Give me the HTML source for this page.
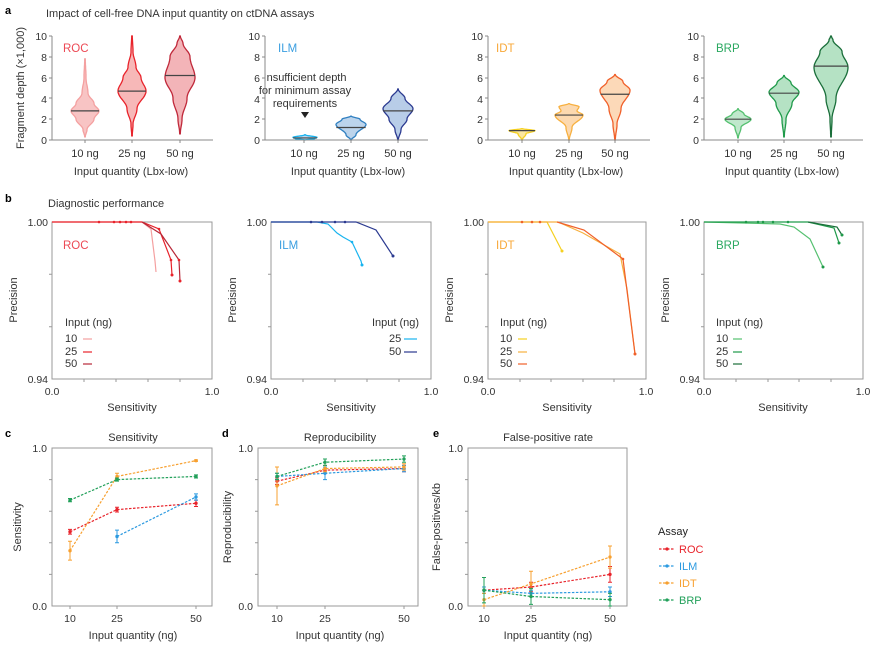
<!DOCTYPE html>
<html><head><meta charset="utf-8"><style>
html,body{margin:0;padding:0;background:#fff;}
svg{display:block;font-family:"Liberation Sans",Arial,sans-serif;}
</style></head><body>
<svg id="s" width="891" height="649" viewBox="0 0 891 649" xmlns="http://www.w3.org/2000/svg">
<g font-size="11" fill="#333">
<text x="5" y="14" font-weight="bold" font-size="11" fill="#000">a</text>
<text x="46" y="17">Impact of cell-free DNA input quantity on ctDNA assays</text>
<text x="5" y="202" font-weight="bold" font-size="11" fill="#000">b</text>
<text x="48" y="207">Diagnostic performance</text>
<text x="5" y="437" font-weight="bold" font-size="11" fill="#000">c</text>
<text x="222" y="437" font-weight="bold" font-size="11" fill="#000">d</text>
<text x="433" y="437" font-weight="bold" font-size="11" fill="#000">e</text>
</g>
<g id="va"></g>
<g font-size="11" fill="#333">
<text transform="translate(24,88) rotate(-90)" text-anchor="middle">Fragment depth (×1,000)</text>
<g text-anchor="end" font-size="10.5">
<text x="47" y="40">10</text><text x="47" y="61">8</text><text x="47" y="82">6</text><text x="47" y="103">4</text><text x="47" y="123">2</text><text x="47" y="144">0</text>
<text x="260" y="40">10</text><text x="260" y="61">8</text><text x="260" y="82">6</text><text x="260" y="103">4</text><text x="260" y="123">2</text><text x="260" y="144">0</text>
<text x="483" y="40">10</text><text x="483" y="61">8</text><text x="483" y="82">6</text><text x="483" y="103">4</text><text x="483" y="123">2</text><text x="483" y="144">0</text>
<text x="699" y="40">10</text><text x="699" y="61">8</text><text x="699" y="82">6</text><text x="699" y="103">4</text><text x="699" y="123">2</text><text x="699" y="144">0</text>
</g>
<g text-anchor="middle">
<text x="85" y="157">10 ng</text><text x="132" y="157">25 ng</text><text x="180" y="157">50 ng</text>
<text x="131" y="175">Input quantity (Lbx-low)</text>
<text x="304" y="157">10 ng</text><text x="351" y="157">25 ng</text><text x="398" y="157">50 ng</text>
<text x="348" y="175">Input quantity (Lbx-low)</text>
<text x="522" y="157">10 ng</text><text x="569" y="157">25 ng</text><text x="615" y="157">50 ng</text>
<text x="566" y="175">Input quantity (Lbx-low)</text>
<text x="738" y="157">10 ng</text><text x="784" y="157">25 ng</text><text x="831" y="157">50 ng</text>
<text x="782" y="175">Input quantity (Lbx-low)</text>
<text x="305" y="81">Insufficient depth</text>
<text x="305" y="94">for minimum assay</text>
<text x="305" y="107">requirements</text>
</g>
<text x="63" y="52" fill="#ec4a55" font-size="11.5">ROC</text>
<text x="278" y="52" fill="#3a9ee0" font-size="11.5">ILM</text>
<text x="496" y="52" fill="#f8a838" font-size="11.5">IDT</text>
<text x="716" y="52" fill="#2aa860" font-size="11.5">BRP</text>
</g>
<path d="M301,112 L309,112 L305,118 Z" fill="#222"/>
<g stroke="#888" stroke-width="1" fill="none">
<path d="M52,36 V140 H213"/><path d="M265,36 V140 H428"/><path d="M488,36 V140 H650"/><path d="M704,36 V140 H863"/>
<path d="M49,36H52M49,57H52M49,78H52M49,98H52M49,119H52M49,140H52"/>
<path d="M262,36H265M262,57H265M262,78H265M262,98H265M262,119H265M262,140H265"/>
<path d="M485,36H488M485,57H488M485,78H488M485,98H488M485,119H488M485,140H488"/>
<path d="M701,36H704M701,57H704M701,78H704M701,98H704M701,119H704M701,140H704"/>
<path d="M85,140v3M132,140v3M180,140v3M304,140v3M351,140v3M398,140v3M522,140v3M569,140v3M615,140v3M738,140v3M784,140v3M831,140v3"/>
</g>

<g stroke="#999" stroke-width="1" fill="none">
<rect x="52" y="222" width="160" height="157"/><rect x="271" y="222" width="160" height="157"/>
<rect x="488" y="222" width="158" height="157"/><rect x="704" y="222" width="159" height="157"/>
<path d="M52,274.3h-3M52,326.7h-3M84,379v3M116,379v3M148,379v3M180,379v3"/>
<path d="M271,274.3h-3M271,326.7h-3M303,379v3M335,379v3M367,379v3M399,379v3"/>
<path d="M488,274.3h-3M488,326.7h-3M520,379v3M551,379v3M583,379v3M614,379v3"/>
<path d="M704,274.3h-3M704,326.7h-3M736,379v3M768,379v3M799,379v3M831,379v3"/>
</g>
<g font-size="11" fill="#333">
<g text-anchor="end" font-size="10.5">
<text x="48" y="226">1.00</text><text x="48" y="383">0.94</text>
<text x="267" y="226">1.00</text><text x="267" y="383">0.94</text>
<text x="484" y="226">1.00</text><text x="484" y="383">0.94</text>
<text x="700" y="226">1.00</text><text x="700" y="383">0.94</text>
</g>
<g text-anchor="middle">
<text x="52" y="395" font-size="10.5">0.0</text><text x="212" y="395" font-size="10.5">1.0</text><text x="132" y="411">Sensitivity</text>
<text x="271" y="395" font-size="10.5">0.0</text><text x="431" y="395" font-size="10.5">1.0</text><text x="351" y="411">Sensitivity</text>
<text x="488" y="395" font-size="10.5">0.0</text><text x="646" y="395" font-size="10.5">1.0</text><text x="567" y="411">Sensitivity</text>
<text x="704" y="395" font-size="10.5">0.0</text><text x="863" y="395" font-size="10.5">1.0</text><text x="783" y="411">Sensitivity</text>
<text transform="translate(17,300) rotate(-90)">Precision</text>
<text transform="translate(236,300) rotate(-90)">Precision</text>
<text transform="translate(453,300) rotate(-90)">Precision</text>
<text transform="translate(669,300) rotate(-90)">Precision</text>
</g>
<text x="63" y="249" fill="#ec4a55" font-size="11.5">ROC</text>
<text x="279" y="249" fill="#3a9ee0" font-size="11.5">ILM</text>
<text x="496" y="249" fill="#f8a838" font-size="11.5">IDT</text>
<text x="716" y="249" fill="#2aa860" font-size="11.5">BRP</text>
<text x="65" y="326">Input (ng)</text><text x="65" y="342">10</text><text x="65" y="355">25</text><text x="65" y="367">50</text>
<text x="372" y="326">Input (ng)</text><text x="389" y="342">25</text><text x="389" y="355">50</text>
<text x="500" y="326">Input (ng)</text><text x="500" y="342">10</text><text x="500" y="355">25</text><text x="500" y="367">50</text>
<text x="716" y="326">Input (ng)</text><text x="716" y="342">10</text><text x="716" y="355">25</text><text x="716" y="367">50</text>
</g>
<g stroke-width="1.2">
<path d="M83,339h9" stroke="#f4a0a0"/><path d="M83,352h9" stroke="#e8232b"/><path d="M83,364h9" stroke="#b82838"/>
<path d="M404,339h13" stroke="#19b4ef"/><path d="M404,352h13" stroke="#2b3a90"/>
<path d="M518,339h9" stroke="#f5d020"/><path d="M518,352h9" stroke="#f7b040"/><path d="M518,364h9" stroke="#f0602a"/>
<path d="M733,339h9" stroke="#55c070"/><path d="M733,352h9" stroke="#1f9a4a"/><path d="M733,364h9" stroke="#1a6e3a"/>
</g>
<g fill="none" stroke-width="1.2">
<polyline stroke="#f4a0a0" points="52,222 142,222 151,229 155,261 156,272"/>
<polyline stroke="#e8232b" points="52,222 142,222 159,229 171,260 172,275"/>
<polyline stroke="#b82838" points="142,222 161,234 179,260 180,281"/>
<polyline stroke="#19b4ef" points="271,222 317,222 328,224 337,233 343,237 352,242 361,261 362,265"/>
<polyline stroke="#2b3a90" points="271,222 356,222 376,230 393,256"/>
<polyline stroke="#f5d020" points="488,222 547,222 562,251"/>
<polyline stroke="#f7b040" points="488,222 558,222 583,233 620,254 627,289 635,354"/>
<polyline stroke="#f0602a" points="557,222 584,230 623,259 635,354"/>
<polyline stroke="#55c070" points="704,222 780,224 794,227 810,239 823,267"/>
<polyline stroke="#1f9a4a" points="704,222 808,222 834,228 839,243"/>
<polyline stroke="#1a6e3a" points="808,222 837,227 842,235"/>
</g>
<g fill="#e8232b"><circle cx="99" cy="222" r="1.3"/><circle cx="114" cy="222" r="1.3"/><circle cx="120" cy="222" r="1.3"/><circle cx="126" cy="222" r="1.3"/><circle cx="131" cy="222" r="1.3"/><circle cx="172" cy="275" r="1.5"/><circle cx="180" cy="281" r="1.5"/><circle cx="171" cy="260" r="1.3"/><circle cx="179" cy="260" r="1.3"/><circle cx="159" cy="229" r="1.3"/></g>
<g fill="#2b3a90"><circle cx="311" cy="222" r="1.3"/><circle cx="322" cy="222" r="1.3"/><circle cx="335" cy="222" r="1.3"/><circle cx="345" cy="222" r="1.3"/><circle cx="393" cy="256" r="1.5"/></g>
<g fill="#19b4ef"><circle cx="362" cy="265" r="1.5"/><circle cx="352" cy="242" r="1.3"/></g>
<g fill="#f0602a"><circle cx="635" cy="354" r="1.5"/><circle cx="522" cy="222" r="1.3"/><circle cx="532" cy="222" r="1.3"/><circle cx="540" cy="222" r="1.3"/><circle cx="623" cy="259" r="1.3"/></g>
<g fill="#f5d020"><circle cx="562" cy="251" r="1.5"/></g>
<g fill="#1f9a4a"><circle cx="746" cy="222" r="1.3"/><circle cx="758" cy="222" r="1.3"/><circle cx="763" cy="222" r="1.3"/><circle cx="773" cy="222" r="1.3"/><circle cx="788" cy="222" r="1.3"/><circle cx="839" cy="243" r="1.5"/><circle cx="842" cy="235" r="1.5"/><circle cx="823" cy="267" r="1.5"/></g>

<g stroke="#999" stroke-width="1" fill="none">
<rect x="52" y="448" width="160" height="158"/><rect x="258" y="448" width="160" height="158"/><rect x="468" y="448" width="159" height="158"/>
<path d="M52,479.6h-3M52,511.2h-3M52,542.8h-3M52,574.4h-3M70,606v3M117,606v3M196,606v3"/>
<path d="M258,479.6h-3M258,511.2h-3M258,542.8h-3M258,574.4h-3M277,606v3M325,606v3M404,606v3"/>
<path d="M468,479.6h-3M468,511.2h-3M468,542.8h-3M468,574.4h-3M484,606v3M531,606v3M610,606v3"/>
</g>
<g font-size="11" fill="#333">
<g text-anchor="end" font-size="10.5">
<text x="47" y="452">1.0</text><text x="47" y="610">0.0</text>
<text x="253" y="452">1.0</text><text x="253" y="610">0.0</text>
<text x="463" y="452">1.0</text><text x="463" y="610">0.0</text>
</g>
<g text-anchor="middle">
<text x="133" y="441">Sensitivity</text><text x="340" y="441">Reproducibility</text><text x="548" y="441">False-positive rate</text>
<text x="70" y="622" font-size="10.5">10</text><text x="117" y="622" font-size="10.5">25</text><text x="196" y="622" font-size="10.5">50</text><text x="133" y="639">Input quantity (ng)</text>
<text x="277" y="622" font-size="10.5">10</text><text x="325" y="622" font-size="10.5">25</text><text x="404" y="622" font-size="10.5">50</text><text x="340" y="639">Input quantity (ng)</text>
<text x="484" y="622" font-size="10.5">10</text><text x="531" y="622" font-size="10.5">25</text><text x="610" y="622" font-size="10.5">50</text><text x="548" y="639">Input quantity (ng)</text>
<text transform="translate(21,527) rotate(-90)">Sensitivity</text>
<text transform="translate(231,527) rotate(-90)">Reproducibility</text>
<text transform="translate(440,527) rotate(-90)">False-positives/kb</text>
</g>
<text x="658" y="535" fill="#222">Assay</text>
<text x="679" y="553" fill="#e8232b">ROC</text>
<text x="679" y="570" fill="#2c9ae0">ILM</text>
<text x="679" y="587" fill="#f7a030">IDT</text>
<text x="679" y="604" fill="#22a05a">BRP</text>
</g>
<g stroke-width="1.2" stroke-dasharray="2.5,1.5">
<path d="M659,549h16" stroke="#e8232b"/><path d="M659,566h16" stroke="#2c9ae0"/><path d="M659,583h16" stroke="#f7a030"/><path d="M659,600h16" stroke="#22a05a"/>
</g>
<g fill="#e8232b"><circle cx="667" cy="549" r="1.6"/></g><g fill="#2c9ae0"><circle cx="667" cy="566" r="1.6"/></g><g fill="#f7a030"><circle cx="667" cy="583" r="1.6"/></g><g fill="#22a05a"><circle cx="667" cy="600" r="1.6"/></g>
<g id="lines"></g>
</svg>
<script>
var NS="http://www.w3.org/2000/svg";
function el(p,t,a){var e=document.createElementNS(NS,t);for(var k in a)e.setAttribute(k,a[k]);p.appendChild(e);return e;}
var va=document.getElementById('va');
function violin(cx,prof,med,stroke,fill){
 var Y=function(v){return 140-v*10.4;};
 var pts=[];var n=60;var lo=prof[0][0],hi=prof[prof.length-1][0];
 for(var i=0;i<=n;i++){var v=lo+(hi-lo)*i/n;var j=0;while(j<prof.length-2&&prof[j+1][0]<v)j++;
  var a=prof[j],b=prof[j+1];var t=(v-a[0])/(b[0]-a[0]);t=Math.max(0,Math.min(1,t));var s=(1-Math.cos(Math.PI*t))/2;
  pts.push([v,a[1]+(b[1]-a[1])*s]);}
 var d="M";pts.forEach(function(p,i){d+=(i?"L":"")+(cx+p[1]).toFixed(1)+","+Y(p[0]).toFixed(1);});
 for(var i=pts.length-1;i>=0;i--)d+="L"+(cx-pts[i][1]).toFixed(1)+","+Y(pts[i][0]).toFixed(1);
 d+="Z";
 el(va,'path',{d:d,fill:fill,stroke:stroke,'stroke-width':1.3});
 var mw=0;pts.forEach(function(p){if(Math.abs(p[0]-med)<0.2)mw=Math.max(mw,p[1]);});
 el(va,'line',{x1:cx-mw,x2:cx+mw,y1:Y(med),y2:Y(med),stroke:'#444','stroke-width':1.2});
}
violin(85,[[0.3,0.3],[1,2],[2,9],[2.8,14],[3.5,9],[4.5,3],[6,1],[7.8,0.3]],2.8,'#f4a0a0','#f8c4c4');
violin(132,[[0.4,0.3],[1.5,1],[3,5],[4.7,14],[6,9],[7,4],[8.5,1],[10,0.3]],4.7,'#e8232b','#f7b8b8');
violin(180,[[0.6,0.3],[2,2],[4,7],[6,15],[8,10],[9.3,3],[10,0.3]],6.2,'#c0283a','#f3b4b8');
violin(305,[[0,0.3],[0.15,10],[0.25,12],[0.5,0.3]],0.2,'#19b4ef','#bcd8f0');
violin(351,[[0,0.3],[0.5,5],[1.5,15],[2,9],[2.3,0.3]],1.2,'#2f7fc0','#bcd4ec');
violin(398,[[0,0.3],[1,3],[2,9],[3,15],[4,7],[4.9,0.3]],2.8,'#2b3a90','#b8cde8');
violin(522,[[0,0.3],[0.6,4],[0.9,13],[1.1,0.3]],0.9,'#f5d020','#fbe7a0');
violin(569,[[0,0.3],[1.2,3],[2.4,14],[2.8,8],[3.2,10],[3.5,0.3]],2.4,'#f7b040','#fcd9b0');
violin(615,[[0,0.3],[1.5,2],[3,6],[4.8,15],[5.6,8],[6.3,0.3]],4.4,'#f0602a','#fcd9b8');
violin(738,[[0.2,0.3],[1.2,3],[2,13],[2.5,6],[3,0.3]],2,'#55c070','#c0e8cc');
violin(784,[[0.3,0.3],[2,2],[3.5,8],[4.6,15],[5.5,7],[6.2,0.3]],4.5,'#1f9a4a','#b5e2c4');
violin(831,[[0.3,0.3],[2,1],[4,5],[7,17],[8.5,11],[9.6,2],[10,0.3]],7.1,'#1a6e3a','#b5e2c4');

var L=document.getElementById('lines');
function series(xs,vals,err,col){
 var Y=function(v){return 606-v*158;};
 var pts=[];xs.forEach(function(x,i){if(vals[i]!=null)pts.push([x,Y(vals[i]),err[i]*158]);});
 el(L,'polyline',{points:pts.map(function(p){return p[0]+","+p[1];}).join(" "),fill:'none',stroke:col,'stroke-width':1.2,'stroke-dasharray':'2.5,1.5'});
 pts.forEach(function(p){
  el(L,'path',{d:"M"+p[0]+","+(p[1]-p[2])+"V"+(p[1]+p[2])+"M"+(p[0]-2)+","+(p[1]-p[2])+"h4M"+(p[0]-2)+","+(p[1]+p[2])+"h4",stroke:col,'stroke-width':1,fill:'none'});
  el(L,'circle',{cx:p[0],cy:p[1],r:1.7,fill:col});
 });
}
var R='#e8232b',B='#2c9ae0',O='#f7a030',G='#22a05a';
var c=[70,117,196],d=[277,325,404],e=[484,531,610];
series(c,[0.47,0.61,0.65],[0.015,0.015,0.02],R);
series(c,[null,0.44,0.69],[0,0.04,0.02],B);
series(c,[0.35,0.82,0.92],[0.06,0.02,0.005],O);
series(c,[0.67,0.8,0.82],[0.01,0.01,0.01],G);
series(d,[0.79,0.86,0.87],[0.02,0.02,0.02],R);
series(d,[0.82,0.84,0.87],[0.02,0.04,0.02],B);
series(d,[0.76,0.87,0.88],[0.12,0.02,0.02],O);
series(d,[0.82,0.91,0.93],[0.02,0.02,0.02],G);
series(e,[0.1,0.12,0.2],[0.02,0.03,0.05],R);
series(e,[0.1,0.08,0.09],[0.02,0.02,0.03],B);
series(e,[0.04,0.14,0.31],[0.04,0.08,0.07],O);
series(e,[0.1,0.06,0.04],[0.08,0.05,0.04],G);
</script>
</body></html>
